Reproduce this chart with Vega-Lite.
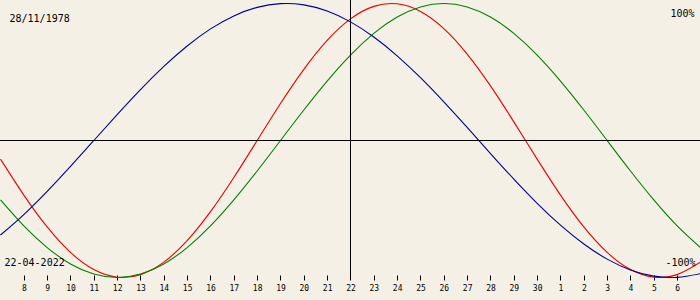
{
  "$schema": "https://vega.github.io/schema/vega-lite/v6.json",
  "width": 700,
  "height": 280,
  "autosize": {"type": "none"},
  "padding": {"left": 0, "top": 0, "right": 0, "bottom": 20},
  "background": "#f4f0e6",
  "config": {
    "view": {"stroke": null, "fill": "#f4f0e6"},
    "font": "DejaVu Sans Mono",
    "axisX": {
      "domain": false,
      "grid": false,
      "ticks": true,
      "tickSize": 5,
      "tickColor": "#000000",
      "tickWidth": 1,
      "offset": -5,
      "labelPadding": 4,
      "labelBaseline": "top",
      "labelFont": "DejaVu Sans Mono",
      "labelFontSize": 8,
      "labelColor": "#000000",
      "labelFlush": false,
      "labelOverlap": false,
      "labelBound": false,
      "title": null
    }
  },
  "datasets": {
    "one": [{}],
    "bio": [
      {"day": 7, "series": "physical", "value": -0.1362},
      {"day": 8, "series": "physical", "value": -0.3984},
      {"day": 9, "series": "physical", "value": -0.6311},
      {"day": 10, "series": "physical", "value": -0.8170},
      {"day": 11, "series": "physical", "value": -0.9423},
      {"day": 12, "series": "physical", "value": -0.9977},
      {"day": 13, "series": "physical", "value": -0.9791},
      {"day": 14, "series": "physical", "value": -0.8879},
      {"day": 15, "series": "physical", "value": -0.7308},
      {"day": 16, "series": "physical", "value": -0.5196},
      {"day": 17, "series": "physical", "value": -0.2698},
      {"day": 18, "series": "physical", "value": 0},
      {"day": 19, "series": "physical", "value": 0.2698},
      {"day": 20, "series": "physical", "value": 0.5196},
      {"day": 21, "series": "physical", "value": 0.7308},
      {"day": 22, "series": "physical", "value": 0.8879},
      {"day": 23, "series": "physical", "value": 0.9791},
      {"day": 24, "series": "physical", "value": 0.9977},
      {"day": 25, "series": "physical", "value": 0.9423},
      {"day": 26, "series": "physical", "value": 0.8170},
      {"day": 27, "series": "physical", "value": 0.6311},
      {"day": 28, "series": "physical", "value": 0.3984},
      {"day": 29, "series": "physical", "value": 0.1362},
      {"day": 30, "series": "physical", "value": -0.1362},
      {"day": 31, "series": "physical", "value": -0.3984},
      {"day": 32, "series": "physical", "value": -0.6311},
      {"day": 33, "series": "physical", "value": -0.8170},
      {"day": 34, "series": "physical", "value": -0.9423},
      {"day": 35, "series": "physical", "value": -0.9977},
      {"day": 36, "series": "physical", "value": -0.9791},
      {"day": 37, "series": "physical", "value": -0.8879},
      {"day": 7, "series": "emotional", "value": -0.4339},
      {"day": 8, "series": "emotional", "value": -0.6235},
      {"day": 9, "series": "emotional", "value": -0.7818},
      {"day": 10, "series": "emotional", "value": -0.9010},
      {"day": 11, "series": "emotional", "value": -0.9749},
      {"day": 12, "series": "emotional", "value": -1},
      {"day": 13, "series": "emotional", "value": -0.9749},
      {"day": 14, "series": "emotional", "value": -0.9010},
      {"day": 15, "series": "emotional", "value": -0.7818},
      {"day": 16, "series": "emotional", "value": -0.6235},
      {"day": 17, "series": "emotional", "value": -0.4339},
      {"day": 18, "series": "emotional", "value": -0.2225},
      {"day": 19, "series": "emotional", "value": 0},
      {"day": 20, "series": "emotional", "value": 0.2225},
      {"day": 21, "series": "emotional", "value": 0.4339},
      {"day": 22, "series": "emotional", "value": 0.6235},
      {"day": 23, "series": "emotional", "value": 0.7818},
      {"day": 24, "series": "emotional", "value": 0.9010},
      {"day": 25, "series": "emotional", "value": 0.9749},
      {"day": 26, "series": "emotional", "value": 1},
      {"day": 27, "series": "emotional", "value": 0.9749},
      {"day": 28, "series": "emotional", "value": 0.9010},
      {"day": 29, "series": "emotional", "value": 0.7818},
      {"day": 30, "series": "emotional", "value": 0.6235},
      {"day": 31, "series": "emotional", "value": 0.4339},
      {"day": 32, "series": "emotional", "value": 0.2225},
      {"day": 33, "series": "emotional", "value": 0},
      {"day": 34, "series": "emotional", "value": -0.2225},
      {"day": 35, "series": "emotional", "value": -0.4339},
      {"day": 36, "series": "emotional", "value": -0.6235},
      {"day": 37, "series": "emotional", "value": -0.7818},
      {"day": 7, "series": "intellectual", "value": -0.6901},
      {"day": 8, "series": "intellectual", "value": -0.5406},
      {"day": 9, "series": "intellectual", "value": -0.3717},
      {"day": 10, "series": "intellectual", "value": -0.1893},
      {"day": 11, "series": "intellectual", "value": 0},
      {"day": 12, "series": "intellectual", "value": 0.1893},
      {"day": 13, "series": "intellectual", "value": 0.3717},
      {"day": 14, "series": "intellectual", "value": 0.5406},
      {"day": 15, "series": "intellectual", "value": 0.6901},
      {"day": 16, "series": "intellectual", "value": 0.8146},
      {"day": 17, "series": "intellectual", "value": 0.9096},
      {"day": 18, "series": "intellectual", "value": 0.9718},
      {"day": 19, "series": "intellectual", "value": 0.9989},
      {"day": 20, "series": "intellectual", "value": 0.9898},
      {"day": 21, "series": "intellectual", "value": 0.9450},
      {"day": 22, "series": "intellectual", "value": 0.8660},
      {"day": 23, "series": "intellectual", "value": 0.7557},
      {"day": 24, "series": "intellectual", "value": 0.6182},
      {"day": 25, "series": "intellectual", "value": 0.4582},
      {"day": 26, "series": "intellectual", "value": 0.2817},
      {"day": 27, "series": "intellectual", "value": 0.0951},
      {"day": 28, "series": "intellectual", "value": -0.0951},
      {"day": 29, "series": "intellectual", "value": -0.2817},
      {"day": 30, "series": "intellectual", "value": -0.4582},
      {"day": 31, "series": "intellectual", "value": -0.6182},
      {"day": 32, "series": "intellectual", "value": -0.7557},
      {"day": 33, "series": "intellectual", "value": -0.8660},
      {"day": 34, "series": "intellectual", "value": -0.9450},
      {"day": 35, "series": "intellectual", "value": -0.9898},
      {"day": 36, "series": "intellectual", "value": -0.9989},
      {"day": 37, "series": "intellectual", "value": -0.9718}
    ]
  },
  "layer": [
    {
      "data": {"name": "bio"},
      "mark": {"type": "line", "strokeWidth": 1.1, "interpolate": "natural", "clip": true},
      "encoding": {
        "x": {
          "field": "day",
          "type": "quantitative",
          "scale": {"domain": [6.9786, 36.9786], "nice": false, "zero": false},
          "axis": {"values": [8,9,10,11,12,13,14,15,16,17,18,19,20,21,22,23,24,25,26,27,28,29,30,31,32,33,34,35,36], "labelExpr": "datum.value > 30 ? datum.value - 30 : datum.value"}
        },
        "y": {
          "field": "value",
          "type": "quantitative",
          "scale": {"domain": [-1.01825, 1.02555], "nice": false, "zero": false},
          "axis": null
        },
        "color": {
          "field": "series",
          "type": "nominal",
          "scale": {"domain": ["physical", "emotional", "intellectual"], "range": ["#e80000", "#008000", "#000090"]},
          "legend": null
        }
      }
    },
    {
      "data": {"name": "one"},
      "mark": {"type": "rule", "color": "#000000", "strokeWidth": 1},
      "encoding": {"y": {"datum": 0, "type": "quantitative", "axis": null}}
    },
    {
      "data": {"name": "one"},
      "mark": {"type": "rule", "color": "#000000", "strokeWidth": 1},
      "encoding": {"x": {"datum": 22, "type": "quantitative", "axis": {"values": [8,9,10,11,12,13,14,15,16,17,18,19,20,21,22,23,24,25,26,27,28,29,30,31,32,33,34,35,36], "labelExpr": "datum.value > 30 ? datum.value - 30 : datum.value"}}}
    },
    {
      "data": {"name": "one"},
      "mark": {"type": "text", "text": "28/11/1978", "align": "left", "baseline": "alphabetic", "font": "DejaVu Sans Mono", "fontSize": 10, "color": "#000000"},
      "encoding": {"x": {"datum": 7.386, "type": "quantitative", "axis": {"values": [8,9,10,11,12,13,14,15,16,17,18,19,20,21,22,23,24,25,26,27,28,29,30,31,32,33,34,35,36], "labelExpr": "datum.value > 30 ? datum.value - 30 : datum.value"}}, "y": {"datum": 0.8686, "type": "quantitative", "axis": null}}
    },
    {
      "data": {"name": "one"},
      "mark": {"type": "text", "text": "100%", "align": "right", "baseline": "alphabetic", "font": "DejaVu Sans Mono", "fontSize": 10, "color": "#000000"},
      "encoding": {"x": {"datum": 36.743, "type": "quantitative", "axis": {"values": [8,9,10,11,12,13,14,15,16,17,18,19,20,21,22,23,24,25,26,27,28,29,30,31,32,33,34,35,36], "labelExpr": "datum.value > 30 ? datum.value - 30 : datum.value"}}, "y": {"datum": 0.9051, "type": "quantitative", "axis": null}}
    },
    {
      "data": {"name": "one"},
      "mark": {"type": "text", "text": "22-04-2022", "align": "left", "baseline": "alphabetic", "font": "DejaVu Sans Mono", "fontSize": 10, "color": "#000000"},
      "encoding": {"x": {"datum": 7.171, "type": "quantitative", "axis": {"values": [8,9,10,11,12,13,14,15,16,17,18,19,20,21,22,23,24,25,26,27,28,29,30,31,32,33,34,35,36], "labelExpr": "datum.value > 30 ? datum.value - 30 : datum.value"}}, "y": {"datum": -0.9197, "type": "quantitative", "axis": null}}
    },
    {
      "data": {"name": "one"},
      "mark": {"type": "text", "text": "-100%", "align": "right", "baseline": "alphabetic", "font": "DejaVu Sans Mono", "fontSize": 10, "color": "#000000"},
      "encoding": {"x": {"datum": 36.786, "type": "quantitative", "axis": {"values": [8,9,10,11,12,13,14,15,16,17,18,19,20,21,22,23,24,25,26,27,28,29,30,31,32,33,34,35,36], "labelExpr": "datum.value > 30 ? datum.value - 30 : datum.value"}}, "y": {"datum": -0.9197, "type": "quantitative", "axis": null}}
    }
  ]
}
